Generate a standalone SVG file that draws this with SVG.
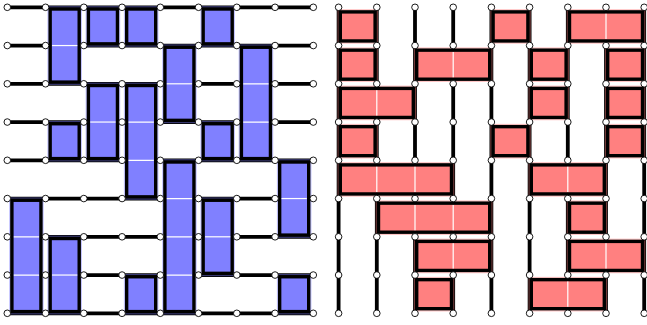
<svg xmlns="http://www.w3.org/2000/svg" xmlns:xlink="http://www.w3.org/1999/xlink" width="647" height="325" viewBox="0 0 647 325">
<style>
.edge{fill:none;stroke:#000;stroke-width:3.8;stroke-linecap:butt}
.halo-b{fill:none;stroke:#8080ff;stroke-opacity:0.45;stroke-width:5.6}
.halo-r{fill:none;stroke:#ff8080;stroke-opacity:0.45;stroke-width:5.6}
.dom-b{fill:#8080ff;stroke:#000;stroke-width:3.4}
.dom-r{fill:#ff8080;stroke:#000;stroke-width:3.4}
.seam{fill:none;stroke:#fff;stroke-width:1.2}
.node{fill:#fff;stroke:#000;stroke-width:0.9}
</style>
<defs>
<circle id="n" r="3.3" class="node"/>
</defs>
<rect width="647" height="325" fill="#fff"/>

<!-- LEFT GRID -->
<g id="left" transform="translate(7.3,7.3)">
<g id="left-connectors">
<path class="edge" d="M0 0H306 M0 38.25H38.25 M76.5 38.25H306 M0 76.5H153 M191.25 76.5H229.5 M267.75 76.5H306 M0 114.75H76.5 M153 114.75H229.5 M267.75 114.75H306 M0 153H114.75 M153 153H306 M0 191.25H153 M191.25 191.25H267.75 M38.25 229.5H153 M229.5 229.5H306 M76.5 267.75H153 M191.25 267.75H306 M0 306H306"/>
</g>
<g id="b-c0-r5"><rect class="halo-b" x="4.6" y="192.95" width="29.05" height="111.35"/><rect class="dom-b" x="4.6" y="192.95" width="29.05" height="111.35"/><path class="seam" d="M6.5 229.5h25.25 M6.5 267.75h25.25"/></g>
<g id="b-c1-r0"><rect class="halo-b" x="42.85" y="1.7" width="29.05" height="73.1"/><rect class="dom-b" x="42.85" y="1.7" width="29.05" height="73.1"/><path class="seam" d="M44.75 38.25h25.25"/></g>
<g id="b-c1-r3"><rect class="halo-b" x="42.85" y="116.45" width="29.05" height="34.85"/><rect class="dom-b" x="42.85" y="116.45" width="29.05" height="34.85"/></g>
<g id="b-c1-r6"><rect class="halo-b" x="42.85" y="231.2" width="29.05" height="73.1"/><rect class="dom-b" x="42.85" y="231.2" width="29.05" height="73.1"/><path class="seam" d="M44.75 267.75h25.25"/></g>
<g id="b-c2-r0"><rect class="halo-b" x="81.1" y="1.7" width="29.05" height="34.85"/><rect class="dom-b" x="81.1" y="1.7" width="29.05" height="34.85"/></g>
<g id="b-c2-r2"><rect class="halo-b" x="81.1" y="78.2" width="29.05" height="73.1"/><rect class="dom-b" x="81.1" y="78.2" width="29.05" height="73.1"/><path class="seam" d="M83 114.75h25.25"/></g>
<g id="b-c3-r0"><rect class="halo-b" x="119.35" y="1.7" width="29.05" height="34.85"/><rect class="dom-b" x="119.35" y="1.7" width="29.05" height="34.85"/></g>
<g id="b-c3-r2"><rect class="halo-b" x="119.35" y="78.2" width="29.05" height="111.35"/><rect class="dom-b" x="119.35" y="78.2" width="29.05" height="111.35"/><path class="seam" d="M121.25 114.75h25.25 M121.25 153h25.25"/></g>
<g id="b-c3-r7"><rect class="halo-b" x="119.35" y="269.45" width="29.05" height="34.85"/><rect class="dom-b" x="119.35" y="269.45" width="29.05" height="34.85"/></g>
<g id="b-c4-r1"><rect class="halo-b" x="157.6" y="39.95" width="29.05" height="73.1"/><rect class="dom-b" x="157.6" y="39.95" width="29.05" height="73.1"/><path class="seam" d="M159.5 76.5h25.25"/></g>
<g id="b-c4-r4"><rect class="halo-b" x="157.6" y="154.7" width="29.05" height="149.6"/><rect class="dom-b" x="157.6" y="154.7" width="29.05" height="149.6"/><path class="seam" d="M159.5 191.25h25.25 M159.5 229.5h25.25 M159.5 267.75h25.25"/></g>
<g id="b-c5-r0"><rect class="halo-b" x="195.85" y="1.7" width="29.05" height="34.85"/><rect class="dom-b" x="195.85" y="1.7" width="29.05" height="34.85"/></g>
<g id="b-c5-r3"><rect class="halo-b" x="195.85" y="116.45" width="29.05" height="34.85"/><rect class="dom-b" x="195.85" y="116.45" width="29.05" height="34.85"/></g>
<g id="b-c5-r5"><rect class="halo-b" x="195.85" y="192.95" width="29.05" height="73.1"/><rect class="dom-b" x="195.85" y="192.95" width="29.05" height="73.1"/><path class="seam" d="M197.75 229.5h25.25"/></g>
<g id="b-c6-r1"><rect class="halo-b" x="234.1" y="39.95" width="29.05" height="111.35"/><rect class="dom-b" x="234.1" y="39.95" width="29.05" height="111.35"/><path class="seam" d="M236 76.5h25.25 M236 114.75h25.25"/></g>
<g id="b-c7-r4"><rect class="halo-b" x="272.35" y="154.7" width="29.05" height="73.1"/><rect class="dom-b" x="272.35" y="154.7" width="29.05" height="73.1"/><path class="seam" d="M274.25 191.25h25.25"/></g>
<g id="b-c7-r7"><rect class="halo-b" x="272.35" y="269.45" width="29.05" height="34.85"/><rect class="dom-b" x="272.35" y="269.45" width="29.05" height="34.85"/></g>
<g id="left-nodes">
<use xlink:href="#n" x="0" y="0"/><use xlink:href="#n" x="38.25" y="0"/><use xlink:href="#n" x="76.5" y="0"/><use xlink:href="#n" x="114.75" y="0"/><use xlink:href="#n" x="153" y="0"/><use xlink:href="#n" x="191.25" y="0"/><use xlink:href="#n" x="229.5" y="0"/><use xlink:href="#n" x="267.75" y="0"/><use xlink:href="#n" x="306" y="0"/>
<use xlink:href="#n" x="0" y="38.25"/><use xlink:href="#n" x="38.25" y="38.25"/><use xlink:href="#n" x="76.5" y="38.25"/><use xlink:href="#n" x="114.75" y="38.25"/><use xlink:href="#n" x="153" y="38.25"/><use xlink:href="#n" x="191.25" y="38.25"/><use xlink:href="#n" x="229.5" y="38.25"/><use xlink:href="#n" x="267.75" y="38.25"/><use xlink:href="#n" x="306" y="38.25"/>
<use xlink:href="#n" x="0" y="76.5"/><use xlink:href="#n" x="38.25" y="76.5"/><use xlink:href="#n" x="76.5" y="76.5"/><use xlink:href="#n" x="114.75" y="76.5"/><use xlink:href="#n" x="153" y="76.5"/><use xlink:href="#n" x="191.25" y="76.5"/><use xlink:href="#n" x="229.5" y="76.5"/><use xlink:href="#n" x="267.75" y="76.5"/><use xlink:href="#n" x="306" y="76.5"/>
<use xlink:href="#n" x="0" y="114.75"/><use xlink:href="#n" x="38.25" y="114.75"/><use xlink:href="#n" x="76.5" y="114.75"/><use xlink:href="#n" x="114.75" y="114.75"/><use xlink:href="#n" x="153" y="114.75"/><use xlink:href="#n" x="191.25" y="114.75"/><use xlink:href="#n" x="229.5" y="114.75"/><use xlink:href="#n" x="267.75" y="114.75"/><use xlink:href="#n" x="306" y="114.75"/>
<use xlink:href="#n" x="0" y="153"/><use xlink:href="#n" x="38.25" y="153"/><use xlink:href="#n" x="76.5" y="153"/><use xlink:href="#n" x="114.75" y="153"/><use xlink:href="#n" x="153" y="153"/><use xlink:href="#n" x="191.25" y="153"/><use xlink:href="#n" x="229.5" y="153"/><use xlink:href="#n" x="267.75" y="153"/><use xlink:href="#n" x="306" y="153"/>
<use xlink:href="#n" x="0" y="191.25"/><use xlink:href="#n" x="38.25" y="191.25"/><use xlink:href="#n" x="76.5" y="191.25"/><use xlink:href="#n" x="114.75" y="191.25"/><use xlink:href="#n" x="153" y="191.25"/><use xlink:href="#n" x="191.25" y="191.25"/><use xlink:href="#n" x="229.5" y="191.25"/><use xlink:href="#n" x="267.75" y="191.25"/><use xlink:href="#n" x="306" y="191.25"/>
<use xlink:href="#n" x="0" y="229.5"/><use xlink:href="#n" x="38.25" y="229.5"/><use xlink:href="#n" x="76.5" y="229.5"/><use xlink:href="#n" x="114.75" y="229.5"/><use xlink:href="#n" x="153" y="229.5"/><use xlink:href="#n" x="191.25" y="229.5"/><use xlink:href="#n" x="229.5" y="229.5"/><use xlink:href="#n" x="267.75" y="229.5"/><use xlink:href="#n" x="306" y="229.5"/>
<use xlink:href="#n" x="0" y="267.75"/><use xlink:href="#n" x="38.25" y="267.75"/><use xlink:href="#n" x="76.5" y="267.75"/><use xlink:href="#n" x="114.75" y="267.75"/><use xlink:href="#n" x="153" y="267.75"/><use xlink:href="#n" x="191.25" y="267.75"/><use xlink:href="#n" x="229.5" y="267.75"/><use xlink:href="#n" x="267.75" y="267.75"/><use xlink:href="#n" x="306" y="267.75"/>
<use xlink:href="#n" x="0" y="306"/><use xlink:href="#n" x="38.25" y="306"/><use xlink:href="#n" x="76.5" y="306"/><use xlink:href="#n" x="114.75" y="306"/><use xlink:href="#n" x="153" y="306"/><use xlink:href="#n" x="191.25" y="306"/><use xlink:href="#n" x="229.5" y="306"/><use xlink:href="#n" x="267.75" y="306"/><use xlink:href="#n" x="306" y="306"/>
</g>
</g>

<!-- RIGHT GRID -->
<g id="right" transform="translate(338.6,7.3)">
<g id="right-connectors">
<path class="edge" d="M0 0V306 M38.2 0V76.5 M38.2 114.75V153 M38.2 191.25V306 M76.4 0V153 M76.4 229.5V306 M114.6 0V38.25 M114.6 76.5V191.25 M114.6 267.75V306 M152.8 0V306 M191 0V306 M229.2 0V153 M229.2 191.25V267.75 M267.4 38.25V229.5 M267.4 267.75V306 M305.6 0V306"/>
</g>
<g id="r-r0-c0"><rect class="halo-r" x="1.7" y="4.6" width="34.8" height="29.05"/><rect class="dom-r" x="1.7" y="4.6" width="34.8" height="29.05"/></g>
<g id="r-r0-c4"><rect class="halo-r" x="154.5" y="4.6" width="34.8" height="29.05"/><rect class="dom-r" x="154.5" y="4.6" width="34.8" height="29.05"/></g>
<g id="r-r0-c6"><rect class="halo-r" x="230.9" y="4.6" width="73" height="29.05"/><rect class="dom-r" x="230.9" y="4.6" width="73" height="29.05"/><path class="seam" d="M267.4 6.5v25.25"/></g>
<g id="r-r1-c0"><rect class="halo-r" x="1.7" y="42.85" width="34.8" height="29.05"/><rect class="dom-r" x="1.7" y="42.85" width="34.8" height="29.05"/></g>
<g id="r-r1-c2"><rect class="halo-r" x="78.1" y="42.85" width="73" height="29.05"/><rect class="dom-r" x="78.1" y="42.85" width="73" height="29.05"/><path class="seam" d="M114.6 44.75v25.25"/></g>
<g id="r-r1-c5"><rect class="halo-r" x="192.7" y="42.85" width="34.8" height="29.05"/><rect class="dom-r" x="192.7" y="42.85" width="34.8" height="29.05"/></g>
<g id="r-r1-c7"><rect class="halo-r" x="269.1" y="42.85" width="34.8" height="29.05"/><rect class="dom-r" x="269.1" y="42.85" width="34.8" height="29.05"/></g>
<g id="r-r2-c0"><rect class="halo-r" x="1.7" y="81.1" width="73" height="29.05"/><rect class="dom-r" x="1.7" y="81.1" width="73" height="29.05"/><path class="seam" d="M38.2 83v25.25"/></g>
<g id="r-r2-c5"><rect class="halo-r" x="192.7" y="81.1" width="34.8" height="29.05"/><rect class="dom-r" x="192.7" y="81.1" width="34.8" height="29.05"/></g>
<g id="r-r2-c7"><rect class="halo-r" x="269.1" y="81.1" width="34.8" height="29.05"/><rect class="dom-r" x="269.1" y="81.1" width="34.8" height="29.05"/></g>
<g id="r-r3-c0"><rect class="halo-r" x="1.7" y="119.35" width="34.8" height="29.05"/><rect class="dom-r" x="1.7" y="119.35" width="34.8" height="29.05"/></g>
<g id="r-r3-c4"><rect class="halo-r" x="154.5" y="119.35" width="34.8" height="29.05"/><rect class="dom-r" x="154.5" y="119.35" width="34.8" height="29.05"/></g>
<g id="r-r3-c7"><rect class="halo-r" x="269.1" y="119.35" width="34.8" height="29.05"/><rect class="dom-r" x="269.1" y="119.35" width="34.8" height="29.05"/></g>
<g id="r-r4-c0"><rect class="halo-r" x="1.7" y="157.6" width="111.2" height="29.05"/><rect class="dom-r" x="1.7" y="157.6" width="111.2" height="29.05"/><path class="seam" d="M38.2 159.5v25.25 M76.4 159.5v25.25"/></g>
<g id="r-r4-c5"><rect class="halo-r" x="192.7" y="157.6" width="73" height="29.05"/><rect class="dom-r" x="192.7" y="157.6" width="73" height="29.05"/><path class="seam" d="M229.2 159.5v25.25"/></g>
<g id="r-r5-c1"><rect class="halo-r" x="39.9" y="195.85" width="111.2" height="29.05"/><rect class="dom-r" x="39.9" y="195.85" width="111.2" height="29.05"/><path class="seam" d="M76.4 197.75v25.25 M114.6 197.75v25.25"/></g>
<g id="r-r5-c6"><rect class="halo-r" x="230.9" y="195.85" width="34.8" height="29.05"/><rect class="dom-r" x="230.9" y="195.85" width="34.8" height="29.05"/></g>
<g id="r-r6-c2"><rect class="halo-r" x="78.1" y="234.1" width="73" height="29.05"/><rect class="dom-r" x="78.1" y="234.1" width="73" height="29.05"/><path class="seam" d="M114.6 236v25.25"/></g>
<g id="r-r6-c6"><rect class="halo-r" x="230.9" y="234.1" width="73" height="29.05"/><rect class="dom-r" x="230.9" y="234.1" width="73" height="29.05"/><path class="seam" d="M267.4 236v25.25"/></g>
<g id="r-r7-c2"><rect class="halo-r" x="78.1" y="272.35" width="34.8" height="29.05"/><rect class="dom-r" x="78.1" y="272.35" width="34.8" height="29.05"/></g>
<g id="r-r7-c5"><rect class="halo-r" x="192.7" y="272.35" width="73" height="29.05"/><rect class="dom-r" x="192.7" y="272.35" width="73" height="29.05"/><path class="seam" d="M229.2 274.25v25.25"/></g>
<g id="right-nodes">
<use xlink:href="#n" x="0" y="0"/><use xlink:href="#n" x="38.2" y="0"/><use xlink:href="#n" x="76.4" y="0"/><use xlink:href="#n" x="114.6" y="0"/><use xlink:href="#n" x="152.8" y="0"/><use xlink:href="#n" x="191" y="0"/><use xlink:href="#n" x="229.2" y="0"/><use xlink:href="#n" x="267.4" y="0"/><use xlink:href="#n" x="305.6" y="0"/>
<use xlink:href="#n" x="0" y="38.25"/><use xlink:href="#n" x="38.2" y="38.25"/><use xlink:href="#n" x="76.4" y="38.25"/><use xlink:href="#n" x="114.6" y="38.25"/><use xlink:href="#n" x="152.8" y="38.25"/><use xlink:href="#n" x="191" y="38.25"/><use xlink:href="#n" x="229.2" y="38.25"/><use xlink:href="#n" x="267.4" y="38.25"/><use xlink:href="#n" x="305.6" y="38.25"/>
<use xlink:href="#n" x="0" y="76.5"/><use xlink:href="#n" x="38.2" y="76.5"/><use xlink:href="#n" x="76.4" y="76.5"/><use xlink:href="#n" x="114.6" y="76.5"/><use xlink:href="#n" x="152.8" y="76.5"/><use xlink:href="#n" x="191" y="76.5"/><use xlink:href="#n" x="229.2" y="76.5"/><use xlink:href="#n" x="267.4" y="76.5"/><use xlink:href="#n" x="305.6" y="76.5"/>
<use xlink:href="#n" x="0" y="114.75"/><use xlink:href="#n" x="38.2" y="114.75"/><use xlink:href="#n" x="76.4" y="114.75"/><use xlink:href="#n" x="114.6" y="114.75"/><use xlink:href="#n" x="152.8" y="114.75"/><use xlink:href="#n" x="191" y="114.75"/><use xlink:href="#n" x="229.2" y="114.75"/><use xlink:href="#n" x="267.4" y="114.75"/><use xlink:href="#n" x="305.6" y="114.75"/>
<use xlink:href="#n" x="0" y="153"/><use xlink:href="#n" x="38.2" y="153"/><use xlink:href="#n" x="76.4" y="153"/><use xlink:href="#n" x="114.6" y="153"/><use xlink:href="#n" x="152.8" y="153"/><use xlink:href="#n" x="191" y="153"/><use xlink:href="#n" x="229.2" y="153"/><use xlink:href="#n" x="267.4" y="153"/><use xlink:href="#n" x="305.6" y="153"/>
<use xlink:href="#n" x="0" y="191.25"/><use xlink:href="#n" x="38.2" y="191.25"/><use xlink:href="#n" x="76.4" y="191.25"/><use xlink:href="#n" x="114.6" y="191.25"/><use xlink:href="#n" x="152.8" y="191.25"/><use xlink:href="#n" x="191" y="191.25"/><use xlink:href="#n" x="229.2" y="191.25"/><use xlink:href="#n" x="267.4" y="191.25"/><use xlink:href="#n" x="305.6" y="191.25"/>
<use xlink:href="#n" x="0" y="229.5"/><use xlink:href="#n" x="38.2" y="229.5"/><use xlink:href="#n" x="76.4" y="229.5"/><use xlink:href="#n" x="114.6" y="229.5"/><use xlink:href="#n" x="152.8" y="229.5"/><use xlink:href="#n" x="191" y="229.5"/><use xlink:href="#n" x="229.2" y="229.5"/><use xlink:href="#n" x="267.4" y="229.5"/><use xlink:href="#n" x="305.6" y="229.5"/>
<use xlink:href="#n" x="0" y="267.75"/><use xlink:href="#n" x="38.2" y="267.75"/><use xlink:href="#n" x="76.4" y="267.75"/><use xlink:href="#n" x="114.6" y="267.75"/><use xlink:href="#n" x="152.8" y="267.75"/><use xlink:href="#n" x="191" y="267.75"/><use xlink:href="#n" x="229.2" y="267.75"/><use xlink:href="#n" x="267.4" y="267.75"/><use xlink:href="#n" x="305.6" y="267.75"/>
<use xlink:href="#n" x="0" y="306"/><use xlink:href="#n" x="38.2" y="306"/><use xlink:href="#n" x="76.4" y="306"/><use xlink:href="#n" x="114.6" y="306"/><use xlink:href="#n" x="152.8" y="306"/><use xlink:href="#n" x="191" y="306"/><use xlink:href="#n" x="229.2" y="306"/><use xlink:href="#n" x="267.4" y="306"/><use xlink:href="#n" x="305.6" y="306"/>
</g>
</g>
</svg>
